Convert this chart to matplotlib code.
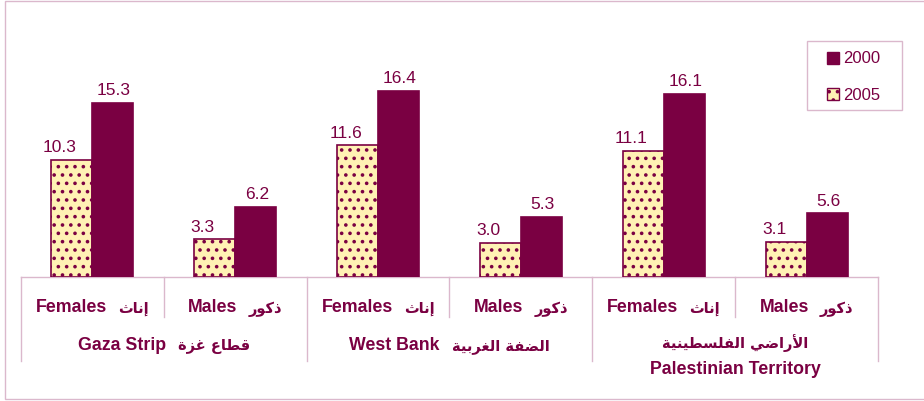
import matplotlib
matplotlib.use("Agg")
import matplotlib.pyplot as plt
from matplotlib.patches import Rectangle
from matplotlib.transforms import offset_copy
import numpy as np

plt.rcParams['font.family'] = ['Liberation Sans', 'DejaVu Sans']
plt.rcParams['hatch.linewidth'] = 1.4

# data
sex_en = ["Females", "Males", "Females", "Males", "Females", "Males"]
sex_ar = ["إناث", "ذكور", "إناث", "ذكور", "إناث", "ذكور"]
region_en = ["Gaza Strip", "West Bank", "Palestinian Territory"]
region_ar = ["قطاع غزة", "الضفة الغربية", "الأراضي الفلسطينية"]
series = ["2005", "2000"]
y2005 = [10.3, 3.3, 11.6, 3.0, 11.1, 3.1]
y2000 = [15.3, 6.2, 16.4, 5.3, 16.1, 5.6]

MAROON = "#7a0042"
CREAM = "#fff1b4"
PINK = "#dbb8cc"

# --- tiny arabic shaper (matplotlib does no shaping / bidi) ---
FORMS = {
    'ا': ('\uFE8D', '\uFE8E', None, None),
    'أ': ('\uFE83', '\uFE84', None, None),
    'إ': ('\uFE87', '\uFE88', None, None),
    'ب': ('\uFE8F', '\uFE90', '\uFE91', '\uFE92'),
    'ة': ('\uFE93', '\uFE94', None, None),
    'ث': ('\uFE99', '\uFE9A', '\uFE9B', '\uFE9C'),
    'ذ': ('\uFEAB', '\uFEAC', None, None),
    'ر': ('\uFEAD', '\uFEAE', None, None),
    'ز': ('\uFEAF', '\uFEB0', None, None),
    'س': ('\uFEB1', '\uFEB2', '\uFEB3', '\uFEB4'),
    'ض': ('\uFEBD', '\uFEBE', '\uFEBF', '\uFEC0'),
    'ط': ('\uFEC1', '\uFEC2', '\uFEC3', '\uFEC4'),
    'ع': ('\uFEC9', '\uFECA', '\uFECB', '\uFECC'),
    'غ': ('\uFECD', '\uFECE', '\uFECF', '\uFED0'),
    'ف': ('\uFED1', '\uFED2', '\uFED3', '\uFED4'),
    'ق': ('\uFED5', '\uFED6', '\uFED7', '\uFED8'),
    'ك': ('\uFED9', '\uFEDA', '\uFEDB', '\uFEDC'),
    'ل': ('\uFEDD', '\uFEDE', '\uFEDF', '\uFEE0'),
    'ن': ('\uFEE5', '\uFEE6', '\uFEE7', '\uFEE8'),
    'و': ('\uFEED', '\uFEEE', None, None),
    'ي': ('\uFEF1', '\uFEF2', '\uFEF3', '\uFEF4'),
}
LAM_ALEF = {'ا': ('\uFEFB', '\uFEFC'), 'أ': ('\uFEF7', '\uFEF8'), 'إ': ('\uFEF9', '\uFEFA')}


def shape_word(word):
    units = []
    i = 0
    while i < len(word):
        if word[i] == 'ل' and i + 1 < len(word) and word[i + 1] in LAM_ALEF:
            units.append(('LA', word[i + 1]))
            i += 2
        else:
            units.append(word[i])
            i += 1

    def joins_left(u):
        return not isinstance(u, tuple) and FORMS[u][2] is not None

    out = []
    for k, u in enumerate(units):
        prev = k > 0 and joins_left(units[k - 1])
        if isinstance(u, tuple):
            iso, fin = LAM_ALEF[u[1]]
            out.append(fin if prev else iso)
            continue
        nxt = k + 1 < len(units) and joins_left(u)
        iso, fin, ini, med = FORMS[u]
        if prev and nxt:
            out.append(med)
        elif prev:
            out.append(fin)
        elif nxt:
            out.append(ini)
        else:
            out.append(iso)
    return ''.join(out)


def ar(text):
    shaped = ' '.join(shape_word(w) for w in text.split(' '))
    return shaped[::-1]


W, H = 924, 402
fig = plt.figure(figsize=(W / 100, H / 100), dpi=100)
renderer = fig.canvas.get_renderer()

# axes placed in pixel terms: x 21..878, baseline y=278, top y=20
x0, x1, ybase, ytop = 21, 878, 278, 20
ax = fig.add_axes([x0 / W, 1 - ybase / H, (x1 - x0) / W, (ybase - ytop) / H])
px_per_unit = 11.37
ax.set_ylim(0, (ybase - ytop) / px_per_unit)
ax.set_xlim(-0.5, len(sex_en) - 0.5)
ax.axis('off')

x = np.arange(len(sex_en))
bw = 0.287
b05 = ax.bar(x - bw, y2005, bw, align='edge', color=CREAM, edgecolor=MAROON,
             hatch='..', linewidth=1.2, zorder=3)
b00 = ax.bar(x, y2000, bw, align='edge', color=MAROON, edgecolor=MAROON,
             linewidth=1.2, zorder=3)

for bars, dx in ((b05, -12), (b00, 1)):
    for r in bars:
        ax.annotate(f"{r.get_height():.1f}", (r.get_x() + r.get_width() / 2, r.get_height()),
                    xytext=(dx * 0.72, 4), textcoords='offset points', ha='center', va='bottom',
                    fontsize=12.5, color=MAROON)


def ay(py):
    return (ybase - py) / (ybase - ytop)


tr = ax.get_xaxis_transform()
line_kw = dict(color=PINK, lw=1.0, transform=tr, clip_on=False)
ax.plot([-0.5, len(sex_en) - 0.5], [0, 0], **line_kw)
for i in range(len(sex_en) + 1):
    bottom = 362 if i % 2 == 0 else 318
    ax.plot([i - 0.5, i - 0.5], [0, ay(bottom)], **line_kw)

en_kw = dict(va='center', color=MAROON, fontsize=12.8, fontweight='bold',
             family='Liberation Sans', clip_on=False)
ar_kw = dict(va='center', color=MAROON, fontsize=10.5, fontweight='bold',
             family='DejaVu Sans', clip_on=False)


def pair_label(cx, py, en, arabic, gap=11):
    # english on the left, arabic on the right, the pair centred on cx
    te = ax.text(cx, ay(py), en, ha='right', transform=tr, **en_kw)
    ta = ax.text(cx, ay(py), arabic, ha='left', transform=tr, **ar_kw)
    we = te.get_window_extent(renderer).width
    wa = ta.get_window_extent(renderer).width
    start = -(we + gap + wa) / 2
    te.set_transform(offset_copy(tr, fig=fig, x=start + we, y=0, units='dots'))
    ta.set_transform(offset_copy(tr, fig=fig, x=start + we + gap, y=-1, units='dots'))


for i in range(len(sex_en)):
    pair_label(i, 308, sex_en[i], ar(sex_ar[i]))

for g in range(len(region_en)):
    cx = 2 * g + 0.5
    if g < 2:
        pair_label(cx, 346, region_en[g], ar(region_ar[g]), gap=12)
    else:
        ax.text(cx, ay(343), ar(region_ar[g]), ha='center', transform=tr, **ar_kw)
        ax.text(cx, ay(370), region_en[g], ha='center', transform=tr, **en_kw)

# legend drawn by hand in figure pixels so the box matches the reference
def fx(px):
    return px / W


def fy(py):
    return 1 - py / H


fig.patches.append(Rectangle((fx(807), fy(111)), fx(902) - fx(807), fy(42) - fy(111),
                             transform=fig.transFigure, fill=True, facecolor='white',
                             edgecolor=PINK, lw=1.0, zorder=5))
legend_rows = [(series[1], b00[0], 59), (series[0], b05[0], 95)]
for name, proto, cy in legend_rows:
    sq = Rectangle((fx(827), fy(cy + 6)), fx(12), fy(0) - fy(12), transform=fig.transFigure,
                   zorder=6)
    sq.update_from(proto)
    sq.set_transform(fig.transFigure)
    sq.set_linewidth(1.0)
    fig.patches.append(sq)
    fig.text(fx(843), fy(cy), name, ha='left', va='center', fontsize=12, color=MAROON, zorder=6)

fig.patches.append(Rectangle((fx(5), fy(400)), fx(925) - fx(5), fy(2) - fy(400),
                             transform=fig.transFigure, fill=False, edgecolor=PINK, lw=1.0))

fig.savefig("out.png", dpi=100)
